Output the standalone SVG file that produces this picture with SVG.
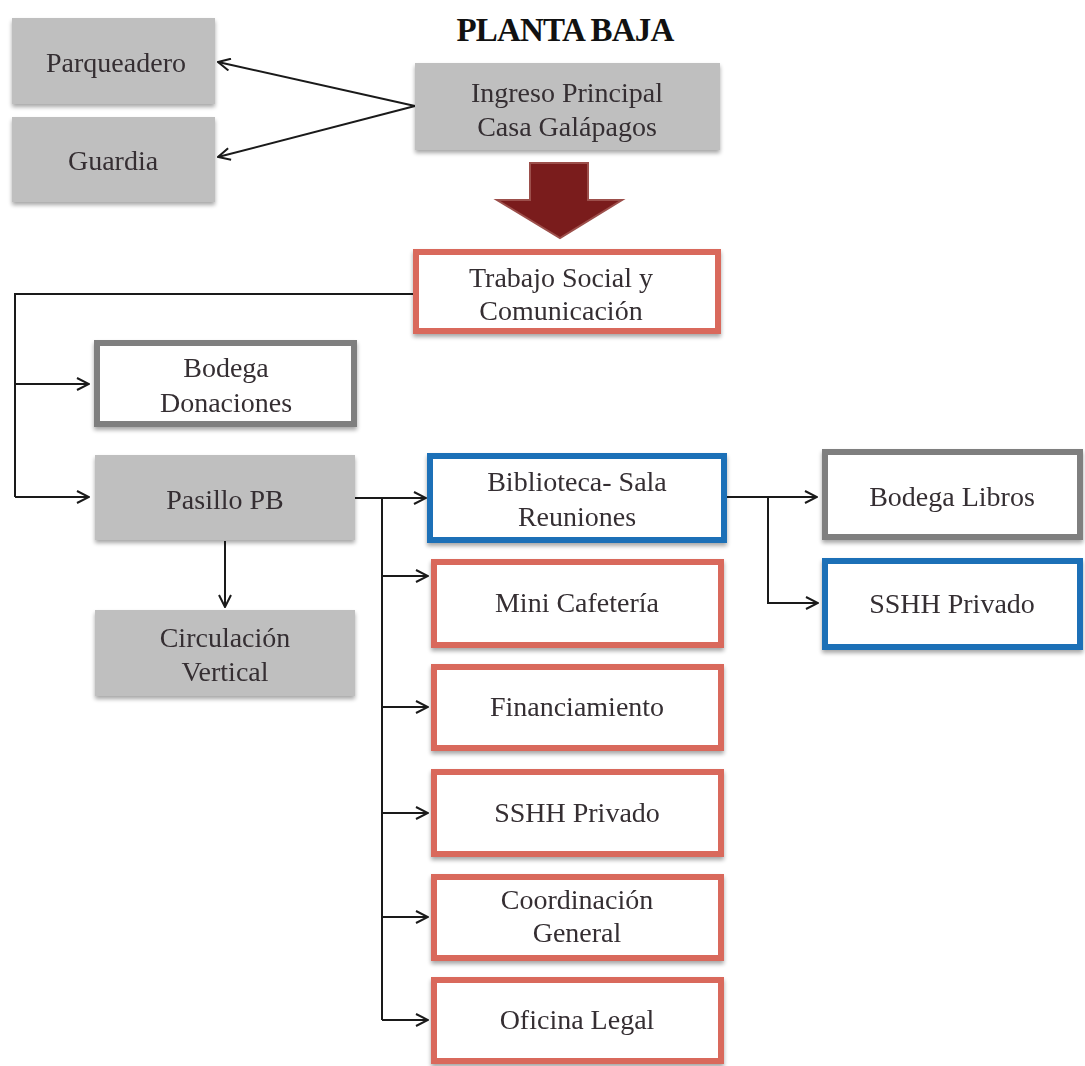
<svg xmlns="http://www.w3.org/2000/svg" width="1085" height="1066" viewBox="0 0 1085 1066">
<defs>
<style>
.t{font-family:"Liberation Serif","Times New Roman",serif;font-size:28px;fill:#352f33;text-anchor:middle;}
.title{font-family:"Liberation Serif","Times New Roman",serif;font-size:33px;font-weight:bold;fill:#111;text-anchor:middle;letter-spacing:-0.8px;}
.gray{fill:#bfbfbf;stroke:none;}
.red{fill:#fff;stroke:#d9695c;stroke-width:6;}
.blue{fill:#fff;stroke:#1f6fb7;stroke-width:6;}
.gbord{fill:#fff;stroke:#7f7f7f;stroke-width:6;}
.c{fill:none;stroke:#1a1a1a;stroke-width:2;}
.ca{fill:none;stroke:#1a1a1a;stroke-width:2;marker-end:url(#ah);}
</style>
<marker id="ah" viewBox="0 0 14 14" refX="13" refY="7" markerWidth="14" markerHeight="14" markerUnits="userSpaceOnUse" orient="auto">
<path d="M1,1 L13,7 L1,13" fill="none" stroke="#1a1a1a" stroke-width="2"/>
</marker>
<filter id="sh" x="-10%" y="-10%" width="125%" height="130%">
<feGaussianBlur in="SourceAlpha" stdDeviation="2"/>
<feOffset dx="0" dy="3" result="b"/>
<feComponentTransfer><feFuncA type="linear" slope="0.35"/></feComponentTransfer>
<feMerge><feMergeNode/><feMergeNode in="SourceGraphic"/></feMerge>
</filter>
</defs>
<rect width="1085" height="1066" fill="#fff"/>
<text class="title" x="565" y="41">PLANTA BAJA</text>

<g id="connectors">
<line class="ca" x1="415" y1="106" x2="218" y2="62"/>
<line class="ca" x1="415" y1="106" x2="218" y2="157"/>
<polyline class="c" points="413,294 15,294 15,497"/>
<line class="ca" x1="15" y1="384" x2="89" y2="384"/>
<line class="ca" x1="15" y1="497" x2="89" y2="497"/>
<line class="ca" x1="225" y1="541" x2="225" y2="607"/>
<line class="ca" x1="355" y1="498" x2="426" y2="498"/>
<line class="c" x1="382" y1="498" x2="382" y2="1020"/>
<line class="ca" x1="382" y1="576" x2="428" y2="576"/>
<line class="ca" x1="382" y1="707" x2="428" y2="707"/>
<line class="ca" x1="382" y1="813" x2="428" y2="813"/>
<line class="ca" x1="382" y1="917" x2="428" y2="917"/>
<line class="ca" x1="382" y1="1020" x2="428" y2="1020"/>
<line class="ca" x1="727" y1="497" x2="817" y2="497"/>
<polyline class="ca" points="768,497 768,603 818,603"/>
</g>

<g id="big-arrow">
<polygon points="530,163 588,163 588,200 622,200 560,238 497,200 530,200" fill="#7a1c1c" stroke="#9c4f4b" stroke-width="2"/>
</g>

<g id="parqueadero" filter="url(#sh)">
<rect class="gray" x="12" y="18" width="203" height="86"/>
<text class="t" x="116" y="72">Parqueadero</text>
</g>
<g id="guardia" filter="url(#sh)">
<rect class="gray" x="12" y="117" width="203" height="85"/>
<text class="t" x="113" y="170">Guardia</text>
</g>
<g id="ingreso" filter="url(#sh)">
<rect class="gray" x="415" y="63" width="305" height="87"/>
<text class="t" x="567" y="102">Ingreso Principal</text>
<text class="t" x="567" y="136">Casa Galápagos</text>
</g>
<g id="trabajo-social" filter="url(#sh)">
<rect class="red" x="416" y="252" width="302" height="79"/>
<text class="t" x="561" y="287">Trabajo Social y</text>
<text class="t" x="561" y="320">Comunicación</text>
</g>
<g id="bodega-donaciones" filter="url(#sh)">
<rect class="gbord" x="97" y="343" width="257" height="81"/>
<text class="t" x="226" y="377">Bodega</text>
<text class="t" x="226" y="412">Donaciones</text>
</g>
<g id="pasillo-pb" filter="url(#sh)">
<rect class="gray" x="95" y="455" width="260" height="85"/>
<text class="t" x="225" y="509">Pasillo PB</text>
</g>
<g id="circulacion-vertical" filter="url(#sh)">
<rect class="gray" x="95" y="610" width="260" height="86"/>
<text class="t" x="225" y="647">Circulación</text>
<text class="t" x="225" y="681">Vertical</text>
</g>
<g id="biblioteca" filter="url(#sh)">
<rect class="blue" x="430" y="456" width="294" height="84"/>
<text class="t" x="577" y="491">Biblioteca- Sala</text>
<text class="t" x="577" y="526">Reuniones</text>
</g>
<g id="mini-cafeteria" filter="url(#sh)">
<rect class="red" x="434" y="562" width="287" height="83"/>
<text class="t" x="577" y="612">Mini Cafetería</text>
</g>
<g id="financiamiento" filter="url(#sh)">
<rect class="red" x="434" y="667" width="287" height="81"/>
<text class="t" x="577" y="716">Financiamiento</text>
</g>
<g id="sshh-privado-1" filter="url(#sh)">
<rect class="red" x="434" y="772" width="287" height="82"/>
<text class="t" x="577" y="822">SSHH Privado</text>
</g>
<g id="coordinacion-general" filter="url(#sh)">
<rect class="red" x="434" y="877" width="287" height="81"/>
<text class="t" x="577" y="909">Coordinación</text>
<text class="t" x="577" y="942">General</text>
</g>
<g id="oficina-legal" filter="url(#sh)">
<rect class="red" x="434" y="980" width="287" height="81"/>
<text class="t" x="577" y="1029">Oficina Legal</text>
</g>
<g id="bodega-libros" filter="url(#sh)">
<rect class="gbord" x="825" y="452" width="255" height="85"/>
<text class="t" x="952" y="506">Bodega Libros</text>
</g>
<g id="sshh-privado-2" filter="url(#sh)">
<rect class="blue" x="825" y="561" width="255" height="86"/>
<text class="t" x="952" y="613">SSHH Privado</text>
</g>
</svg>
